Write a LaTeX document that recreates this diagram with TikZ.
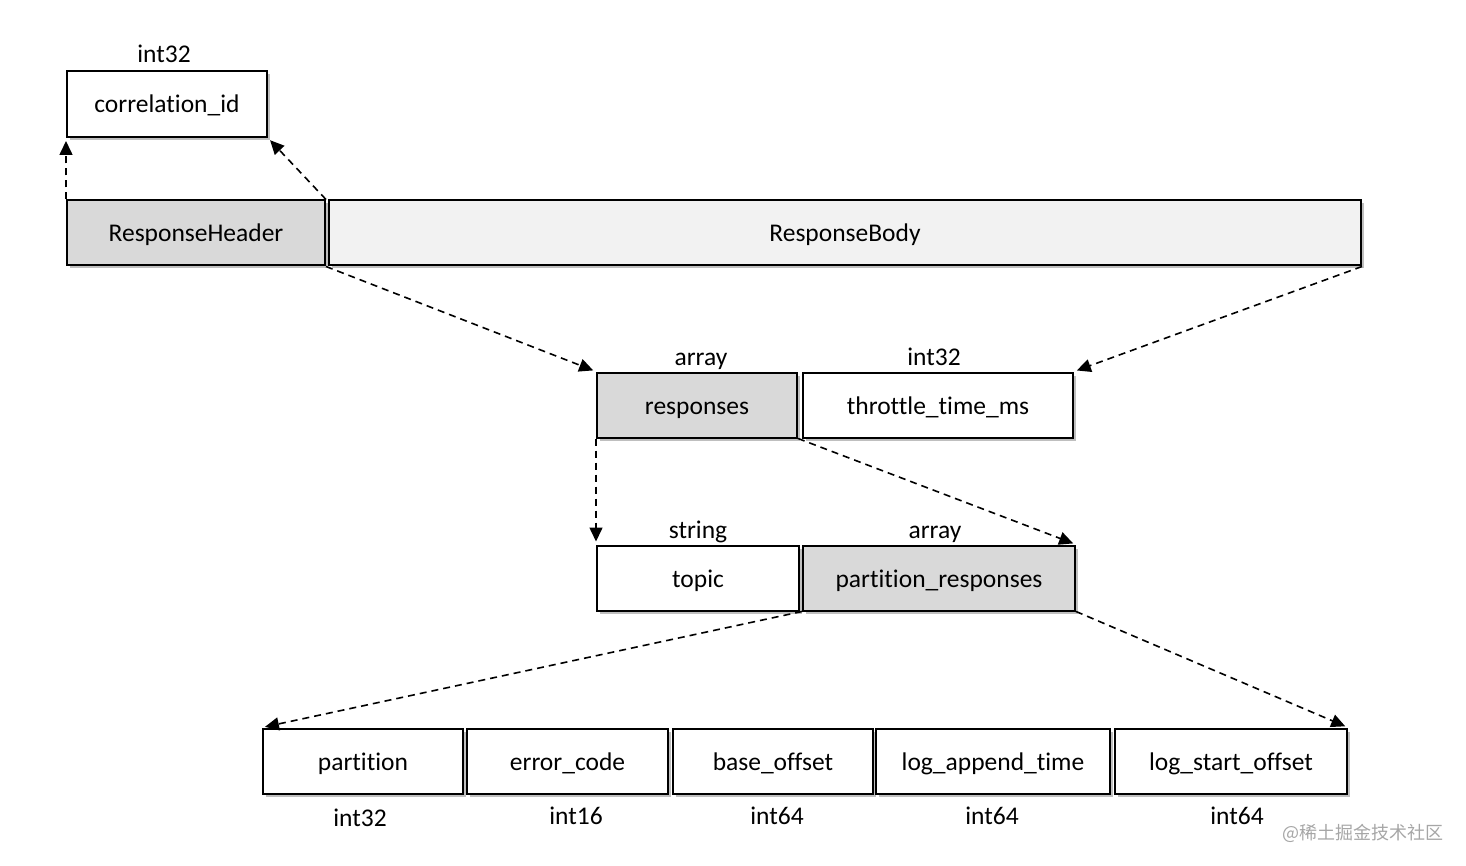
\documentclass[tikz,border=0pt]{standalone}
\usepackage{fontspec}
\setmainfont[Ligatures=NoCommon]{Carlito}
\newfontfamily\cjk{Noto Sans CJK SC}
\usetikzlibrary{arrows.meta,shadows}
\definecolor{darkfill}{HTML}{D9D9D9}
\definecolor{lightfill}{HTML}{F2F2F2}
\definecolor{wmgray}{HTML}{A6A6A6}
\begin{document}
\begin{tikzpicture}[x=1pt,y=-1pt,
  fbox/.style={draw=black, line width=2pt, fill=white, inner sep=0pt, minimum height=65pt,
    font=\fontsize{25.5}{30}\selectfont, text height=20pt, text depth=2pt,
    drop shadow={shadow xshift=3pt, shadow yshift=-3pt, opacity=0.25, fill=black}},
  typelabel/.style={font=\fontsize{25.5}{30}\selectfont, inner sep=0pt, text height=20pt, text depth=2pt},
  conn/.style={line width=1.6pt, dash pattern=on 7pt off 5pt, -{Triangle[length=14pt,width=13pt]}, shorten >=3pt}
]
\useasboundingbox (0,0) rectangle (1466,866);
% top
\node[fbox, minimum width=200pt, minimum height=66pt] (cid) at (167,104) {correlation\_id};
\node[typelabel] (cidt) at (164,54) {int32};
\node[fbox, fill=darkfill, minimum width=258pt] (rh) at (196,233) {ResponseHeader};
\node[fbox, fill=lightfill, minimum width=1032pt] (rb) at (845,233) {ResponseBody};
% middle
\node[fbox, fill=darkfill, minimum width=200pt] (resp) at (697,405) {responses};
\node[typelabel] (respt) at (701,356) {array};
\node[fbox, minimum width=270pt] (thr) at (938,405) {throttle\_time\_ms};
\node[typelabel] (thrt) at (934,356) {int32};
\node[fbox, minimum width=202pt] (topic) at (698,578) {topic};
\node[typelabel] (topict) at (698,529) {string};
\node[fbox, fill=darkfill, minimum width=272pt] (pr) at (939,578) {partition\_responses};
\node[typelabel] (prt) at (935,529) {array};
% bottom
\node[fbox, minimum width=200pt] (part) at (363,761) {partition};
\node[fbox, minimum width=201pt] (ec) at (567.5,761) {error\_code};
\node[fbox, minimum width=200pt] (bo) at (773,761) {base\_offset};
\node[fbox, minimum width=234pt] (lat) at (993,761) {log\_append\_time};
\node[fbox, minimum width=232pt] (lso) at (1231,761) {log\_start\_offset};
\node[typelabel] (partt) at (360,817) {int32};
\node[typelabel] (ect) at (576,815) {int16};
\node[typelabel] (bot) at (777,815) {int64};
\node[typelabel] (latt) at (992,815) {int64};
\node[typelabel] (lsot) at (1237,815) {int64};
\node[inner sep=0pt, text=wmgray, font=\cjk\fontsize{18}{21}\selectfont] (wm) at (1363,833) {@稀土掘金技术社区};
% connectors
\draw[conn] (rh.north west) -- (cid.south west);
\draw[conn] (rh.north east) -- (cid.south east);
\draw[conn] (rh.south east) -- (resp.north west);
\draw[conn] (rb.south east) -- (thr.north east);
\draw[conn] (resp.south west) -- (topic.north west);
\draw[conn] (resp.south east) -- (pr.north east);
\draw[conn] (pr.south west) -- (part.north west);
\draw[conn] (pr.south east) -- (lso.north east);
\end{tikzpicture}
\end{document}
